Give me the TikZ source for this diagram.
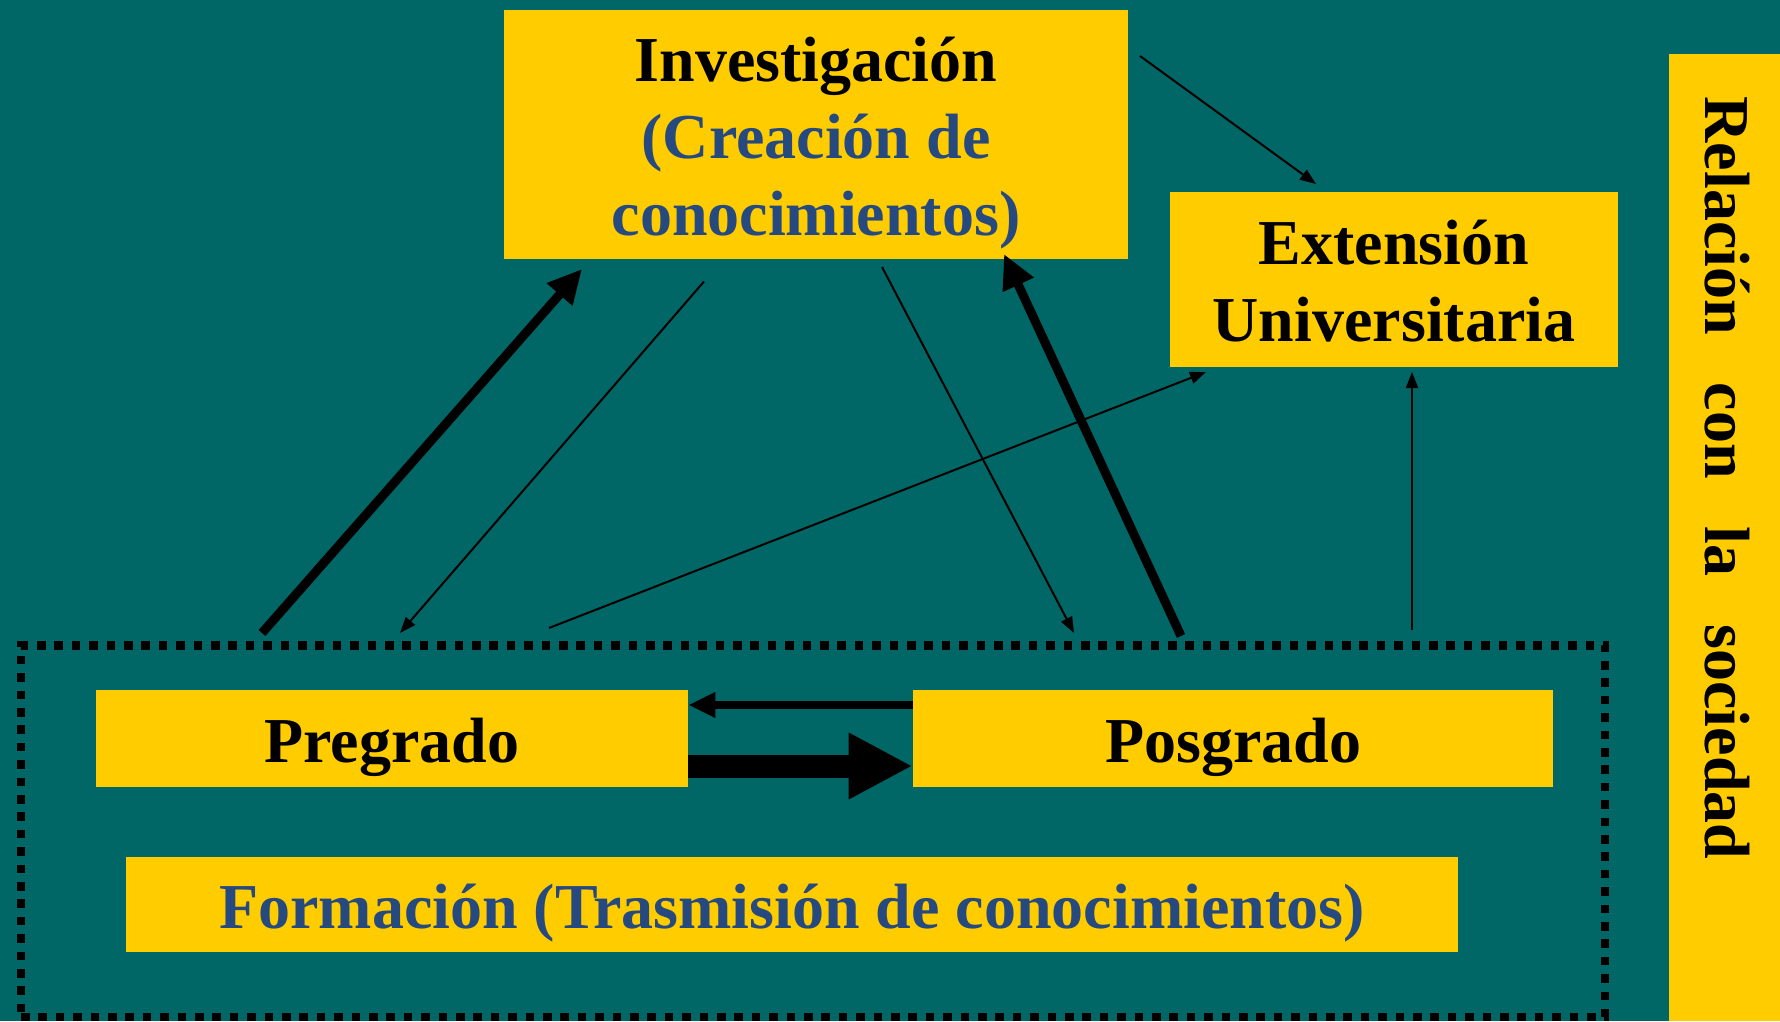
\documentclass[tikz,border=0pt]{standalone}
\usepackage{fontspec}
\setmainfont{Liberation Serif}
\usetikzlibrary{arrows.meta}

\definecolor{fondo}{RGB}{0,102,102}
\definecolor{amarillo}{RGB}{255,204,0}
\definecolor{azul}{RGB}{38,74,128}

\tikzset{
  caja/.style={fill=amarillo, inner sep=0pt},
  rotulo/.style={inner sep=0pt, align=center,
    font=\bfseries\fontsize{32}{38.5}\selectfont},
  fina/.style={line width=1pt, -{Triangle[length=8pt,width=6pt]}},
  gruesa/.style={line width=4.5pt, -{Triangle[length=17pt,width=16pt]}},
}

\begin{document}
\begin{tikzpicture}[x=0.5pt, y=-0.5pt]
    \fill[fondo] (0,0) rectangle (1780,1021);
    \useasboundingbox (0,0) rectangle (1780,1021);

    % cajas
    \node[caja, minimum width=312pt, minimum height=124.5pt] (inv) at (816,134.5) {};
    \node[caja, minimum width=224pt, minimum height=87.5pt] (ext) at (1394,279.5) {};
    \node[caja, minimum width=296pt, minimum height=48.5pt] (pre) at (392,738.5) {};
    \node[caja, minimum width=320pt, minimum height=48.5pt] (pos) at (1233,738.5) {};
    \node[caja, minimum width=666pt, minimum height=47.5pt] (for) at (792,904.5) {};
    \node[draw, line width=4.3pt, dash pattern=on 4.3pt off 4.4pt, inner sep=0pt,
        minimum width=792pt, minimum height=185.7pt] (marco) at (813,831.3) {};

    % textos
    \node[rotulo] at ([yshift=-4.5pt]inv.center)
        {Investigación\\{\color{azul}(Creación de}\\{\color{azul}conocimientos)}};
    \node[rotulo] at ([yshift=-1pt]ext.center) {Extensión\\Universitaria};
    \node[rotulo] at ([yshift=-4.5pt]pre.center) {Pregrado};
    \node[rotulo] at ([yshift=-4.5pt]pos.center) {Posgrado};
    \node[rotulo, text=azul] at ([yshift=-4.5pt]for.center)
        {Formación (Trasmisión de conocimientos)};

    % barra lateral
    \fill[amarillo] (1669,54) rectangle (1780,1021);
    \node[rotulo, rotate=-90] (soc) at (1727,478)
        {Relación\hspace{24pt}con\hspace{24pt}la\hspace{24pt}sociedad};

    % extremos de las flechas
    \coordinate (a1) at (262,633);   \coordinate (b1) at (582,269);
    \coordinate (a2) at (704,281.5); \coordinate (b2) at (400,633);
    \coordinate (a3) at (882,267);   \coordinate (b3) at (1074,633);
    \coordinate (a4) at (1181,636);  \coordinate (b4) at (1004,254);
    \coordinate (a5) at (549,628);   \coordinate (b5) at (1206,372);
    \coordinate (a6) at (1140,56);   \coordinate (b6) at (1316,184);
    \coordinate (a7) at (1412,630);  \coordinate (b7) at (1412,372);

    % flechas
    \draw[gruesa] (a1) -- (b1);
    \draw[gruesa] (a4) -- (b4);
    \draw[fina] (a2) -- (b2);
    \draw[fina] (a3) -- (b3);
    \draw[fina] (a5) -- (b5);
    \draw[fina] (a6) -- (b6);
    \draw[fina] (a7) -- (b7);
    \draw[line width=4pt, -{Triangle[length=13.5pt,width=12pt]}]
        ([yshift=16.75pt]pos.west) -- ([yshift=16.75pt]pre.east);
    \draw[line width=11.5pt, -{Triangle[length=32pt,width=31pt]}]
        ([yshift=-13.75pt]pre.east) -- ([yshift=-13.75pt]pos.west);
\end{tikzpicture}
\end{document}
